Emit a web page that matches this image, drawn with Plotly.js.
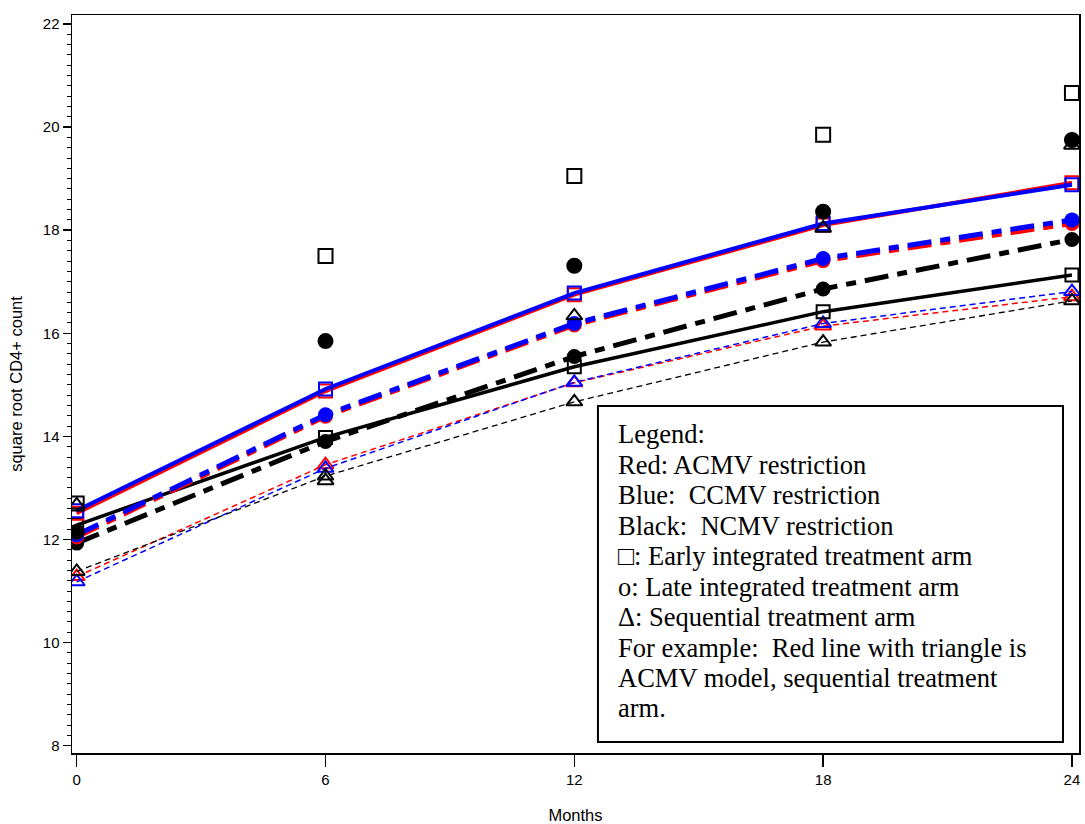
<!DOCTYPE html>
<html>
<head>
<meta charset="utf-8">
<script src="https://cdn.plot.ly/plotly-3.0.1.min.js"></script>
<style>
  html, body { margin: 0; padding: 0; background: #ffffff; }
  #chart { width: 1085px; height: 824px; }
</style>
</head>
<body>
<div id="chart"></div>
<script>
// Visit months
const months = [0, 6, 12, 18, 24];

// ACMV restriction (red) model means, by treatment arm
const acmvEarly = [12.51, 14.88, 16.75, 18.10, 18.92];
const acmvLate  = [12.05, 14.39, 16.16, 17.41, 18.13];
const acmvSeq   = [11.28, 13.45, 15.04, 16.14, 16.71];

// CCMV restriction (blue) model means
const ccmvEarly = [12.56, 14.92, 16.78, 18.13, 18.88];
const ccmvLate  = [12.09, 14.42, 16.19, 17.45, 18.20];
const ccmvSeq   = [11.18, 13.38, 15.05, 16.19, 16.81];

// NCMV restriction (black) model means
const ncmvEarly = [12.28, 13.98, 15.35, 16.42, 17.13];
const ncmvLate  = [11.93, 13.90, 15.55, 16.86, 17.82];
const ncmvSeq   = [11.38, 13.23, 14.67, 15.83, 16.63];

// Observed means (black symbols, no line)
const obsEarly = [12.70, 17.50, 19.05, 19.85, 20.66];
const obsLate  = [12.15, 15.85, 17.31, 18.36, 19.75];
const obsSeq   = [12.67, 13.14, 16.34, 18.04, 19.65];

// Tick labels
const xTicks = [0, 6, 12, 18, 24];
const yTicks = [8, 10, 12, 14, 16, 18, 20, 22];

// Text inside the key box
const keyLines = [
  "Legend:",
  "Red: ACMV restriction",
  "Blue:\u00a0 CCMV restriction",
  "Black:\u00a0 NCMV restriction",
  "\u25a1: Early integrated treatment arm",
  "o: Late integrated treatment arm",
  "\u0394: Sequential treatment arm",
  "For example:\u00a0 Red line with triangle is",
  "ACMV model, sequential treatment",
  "arm."
];

const RED = "#ff0000", BLUE = "#0000ff", BLACK = "#000000";

// line style per arm
const armStyle = {
  early: { dash: "solid", width: 4, symbol: "square-open", size: 13 },
  late:  { dash: "24px,9px,10px,9px", width: 5, symbol: "circle", size: 13 },
  seq:   { dash: "6px,4px", width: 1.5, symbol: "triangle-up-open", size: 14 }
};

function modelTrace(y, color, arm, width) {
  const s = armStyle[arm];
  return {
    x: months, y: y, type: "scatter", mode: "lines+markers",
    line: { color: color, width: width || s.width, dash: s.dash },
    marker: { symbol: s.symbol, size: s.size, color: color, line: { color: color, width: 2 } },
    hoverinfo: "x+y"
  };
}

function obsTrace(y, symbol, size) {
  return {
    x: months, y: y, type: "scatter", mode: "markers",
    marker: { symbol: symbol, size: size, color: BLACK, line: { color: BLACK, width: 2 } },
    hoverinfo: "x+y"
  };
}

const traces = [
  modelTrace(acmvSeq, RED, "seq"),
  modelTrace(ccmvSeq, BLUE, "seq"),
  modelTrace(ncmvSeq, BLACK, "seq", 1.3),
  modelTrace(ncmvEarly, BLACK, "early", 3.5),
  modelTrace(ncmvLate, BLACK, "late"),
  modelTrace(acmvLate, RED, "late"),
  modelTrace(ccmvLate, BLUE, "late"),
  modelTrace(acmvEarly, RED, "early"),
  modelTrace(ccmvEarly, BLUE, "early"),
  obsTrace(obsEarly, "square-open", 14),
  obsTrace(obsLate, "circle", 14),
  obsTrace(obsSeq, "triangle-up-open", 14)
];

// Key box geometry in paper coordinates
const boxX0 = 0.5223, boxX1 = 0.9841, boxY0 = 0.0149, boxY1 = 0.4702;
const textX = 0.5402, textTop = 0.4316, textStep = 0.04125;

const annotations = keyLines.map((t, i) => ({
  xref: "paper", yref: "paper",
  x: textX, y: textTop - i * textStep,
  xanchor: "left", yanchor: "middle",
  text: t, showarrow: false,
  font: { family: "Liberation Serif, Times New Roman, serif", size: 26.5, color: BLACK }
}));

const axisFont = { family: "Liberation Sans, Arial, sans-serif", size: 15, color: BLACK };
const titleFont = { family: "Liberation Sans, Arial, sans-serif", size: 16.5, color: BLACK };

const layout = {
  width: 1085, height: 824,
  margin: { l: 72, r: 6, t: 15, b: 71 },
  paper_bgcolor: "#ffffff", plot_bgcolor: "#ffffff",
  showlegend: false,
  xaxis: {
    range: [-0.113, 24.17],
    tickvals: xTicks, ticktext: xTicks.map(String),
    ticks: "outside", ticklen: 12, tickwidth: 1.5, tickcolor: BLACK,
    showline: true, mirror: true, linecolor: BLACK, linewidth: 1.5,
    showgrid: false, zeroline: false,
    tickfont: axisFont,
    title: { text: "Months", font: titleFont, standoff: 24 }
  },
  yaxis: {
    range: [7.858, 22.175],
    tickvals: yTicks, ticktext: yTicks.map(String),
    ticks: "outside", ticklen: 8, tickwidth: 1.5, tickcolor: BLACK,
    minor: { dtick: 0.2, ticks: "outside", ticklen: 4, tickwidth: 1, tickcolor: BLACK, showgrid: false },
    showline: true, mirror: true, linecolor: BLACK, linewidth: 1.5,
    showgrid: false, zeroline: false,
    tickfont: axisFont,
    title: { text: "square root CD4+ count", font: titleFont, standoff: 16 }
  },
  shapes: [{
    type: "rect", xref: "paper", yref: "paper",
    x0: boxX0, x1: boxX1, y0: boxY0, y1: boxY1,
    line: { color: BLACK, width: 2 }, fillcolor: "#ffffff", layer: "above"
  }],
  annotations: annotations
};

Plotly.newPlot("chart", traces, layout, { displayModeBar: false, staticPlot: true });
</script>
</body>
</html>
